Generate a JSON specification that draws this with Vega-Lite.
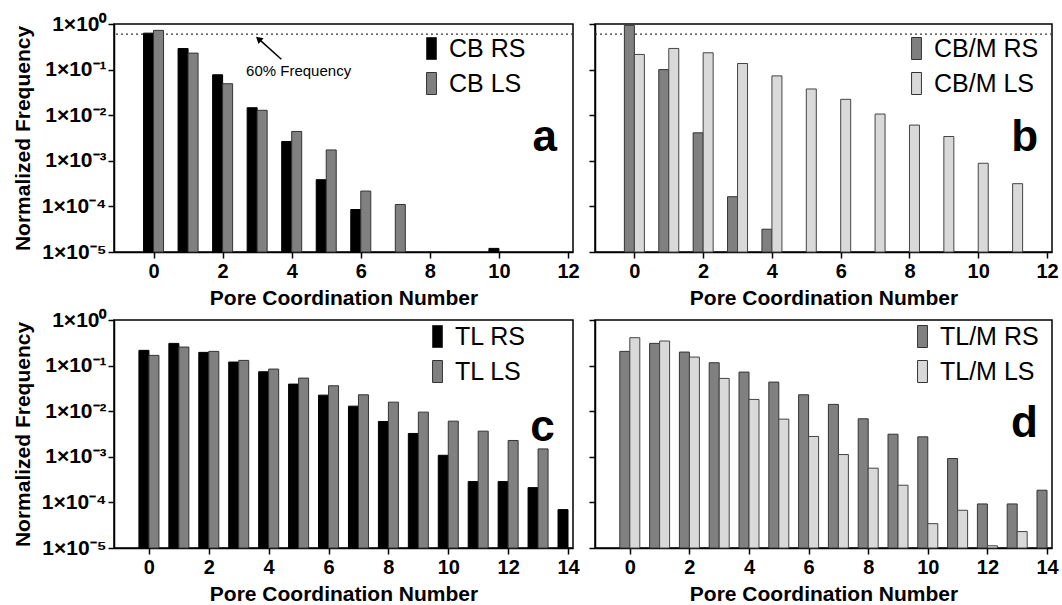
{
  "$schema": "https://vega.github.io/schema/vega-lite/v6.json",
  "padding": {"left": 11, "top": 12, "right": 5, "bottom": 2},
  "columns": 2,
  "spacing": {"row": 68, "column": 22},
  "bounds": "flush",
  "resolve": {"scale": {"x": "independent", "y": "independent", "color": "independent"}, "legend": {"color": "independent"}},
  "config": {
    "font": "Liberation Sans",
    "view": {"stroke": "#000", "strokeWidth": 1.5},
    "axis": {"domainColor": "#000", "domainWidth": 1.5, "tickColor": "#000", "tickWidth": 1.5, "tickSize": 6, "grid": false,
      "labelFont": "Liberation Sans", "labelFontSize": 20, "labelFontWeight": "bold", "labelColor": "#000",
      "titleFont": "Liberation Sans", "titleFontSize": 21, "titleFontWeight": "bold", "titleColor": "#000",
      "labelPadding": 3, "titlePadding": 6, "labelOverlap": false, "labelFlush": false},
    "axisY": {"titlePadding": 8, "labelFontSize": 21, "labelPadding": 2},
    "legend": {"orient": "none", "title": null, "padding": 0, "symbolType": "M-0.45,-1L0.45,-1L0.45,1L-0.45,1Z", "symbolSize": 484,
      "symbolStrokeColor": "#333", "symbolStrokeWidth": 1, "symbolOpacity": 1, "labelFont": "Liberation Sans", "labelFontSize": 25, "labelColor": "#000", "labelOffset": 5, "rowPadding": 8}
  },
  "concat": [
    {
      "width": 459, "height": 228,
      "data": {"values": [
        {"n": 0, "s": "CB RS", "f": 0.63}, {"n": 1, "s": "CB RS", "f": 0.29}, {"n": 2, "s": "CB RS", "f": 0.077}, {"n": 3, "s": "CB RS", "f": 0.0146},
        {"n": 4, "s": "CB RS", "f": 0.00265}, {"n": 5, "s": "CB RS", "f": 0.000385}, {"n": 6, "s": "CB RS", "f": 0.0000855}, {"n": 10, "s": "CB RS", "f": 0.000012},
        {"n": 0, "s": "CB LS", "f": 0.725}, {"n": 1, "s": "CB LS", "f": 0.23}, {"n": 2, "s": "CB LS", "f": 0.049}, {"n": 3, "s": "CB LS", "f": 0.0128},
        {"n": 4, "s": "CB LS", "f": 0.0044}, {"n": 5, "s": "CB LS", "f": 0.00173}, {"n": 6, "s": "CB LS", "f": 0.000217}, {"n": 7, "s": "CB LS", "f": 0.00011}
      ]},
      "layer": [
        {"data": {"values": [{}]}, "mark": {"type": "rule", "strokeDash": [2, 3], "color": "#333", "strokeWidth": 1.2}, "encoding": {"y": {"datum": 0.6, "type": "quantitative"}}},
        {"transform": [{"filter": "datum.s == 'CB RS'"}],
         "mark": {"type": "bar", "width": 10, "xOffset": -5, "stroke": "#000", "strokeWidth": 1},
         "encoding": {
           "x": {"field": "n", "type": "quantitative", "scale": {"domain": [-1, 12], "nice": false, "zero": false},
                 "axis": {"values": [0,1,2,3,4,5,6,7,8,9,10,11,12], "labelExpr": "datum.value % 2 == 0 ? datum.label : ''", "title": "Pore Coordination Number"}},
           "y": {"field": "f", "type": "quantitative", "scale": {"type": "log", "domain": [0.00001, 1], "nice": false},
                 "axis": {"values": [0.00001, 0.0001, 0.001, 0.01, 0.1, 1], "labelExpr": "'1×10' + ['⁰','⁻¹','⁻²','⁻³','⁻⁴','⁻⁵'][round(-log(datum.value)/LN10)]", "title": "Normalized Frequency"}},
           "y2": {"datum": 0.00001},
           "color": {"field": "s", "type": "nominal", "scale": {"domain": ["CB RS", "CB LS"], "range": ["#000000", "#808080"]},
                     "legend": {"legendX": 305, "legendY": 12}}
         }},
        {"transform": [{"filter": "datum.s == 'CB LS'"}],
         "mark": {"type": "bar", "width": 10, "xOffset": 5, "stroke": "#333", "strokeWidth": 1},
         "encoding": {
           "x": {"field": "n", "type": "quantitative"},
           "y": {"field": "f", "type": "quantitative"},
           "y2": {"datum": 0.00001},
           "color": {"field": "s", "type": "nominal"}
         }},
        {"data": {"values": [{"t": "60% Frequency"}]}, "mark": {"type": "text", "fontSize": 15, "font": "Liberation Sans", "color": "#000"},
         "encoding": {"x": {"datum": 4.2, "type": "quantitative"}, "y": {"datum": 0.092, "type": "quantitative"}, "text": {"field": "t"}}},
        {"data": {"values": [{}]}, "mark": {"type": "rule", "color": "#000", "strokeWidth": 1.5},
         "encoding": {"x": {"datum": 3.7, "type": "quantitative"}, "y": {"datum": 0.169, "type": "quantitative"}, "x2": {"datum": 3.06}, "y2": {"datum": 0.46}}},
        {"data": {"values": [{}]}, "mark": {"type": "point", "shape": "triangle-up", "filled": true, "color": "#000", "size": 60, "angle": 311.5, "opacity": 1},
         "encoding": {"x": {"datum": 3.04, "type": "quantitative"}, "y": {"datum": 0.47, "type": "quantitative"}}},
        {"data": {"values": [{"t": "a"}]}, "mark": {"type": "text", "fontSize": 44, "fontWeight": "bold", "font": "Liberation Sans", "color": "#000"},
         "encoding": {"x": {"datum": 11.33, "type": "quantitative"}, "y": {"datum": 0.0032, "type": "quantitative"}, "text": {"field": "t"}}}
      ]
    },
    {
      "width": 457, "height": 228,
      "data": {"values": [
        {"n": 0, "s": "CB/M RS", "f": 0.935}, {"n": 1, "s": "CB/M RS", "f": 0.1}, {"n": 2, "s": "CB/M RS", "f": 0.0041}, {"n": 3, "s": "CB/M RS", "f": 0.000163}, {"n": 4, "s": "CB/M RS", "f": 0.0000316},
        {"n": 0, "s": "CB/M LS", "f": 0.215}, {"n": 1, "s": "CB/M LS", "f": 0.291}, {"n": 2, "s": "CB/M LS", "f": 0.234}, {"n": 3, "s": "CB/M LS", "f": 0.136},
        {"n": 4, "s": "CB/M LS", "f": 0.0728}, {"n": 5, "s": "CB/M LS", "f": 0.0376}, {"n": 6, "s": "CB/M LS", "f": 0.0223}, {"n": 7, "s": "CB/M LS", "f": 0.0106},
        {"n": 8, "s": "CB/M LS", "f": 0.00607}, {"n": 9, "s": "CB/M LS", "f": 0.00341}, {"n": 10, "s": "CB/M LS", "f": 0.000883}, {"n": 11, "s": "CB/M LS", "f": 0.000315}
      ]},
      "layer": [
        {"data": {"values": [{}]}, "mark": {"type": "rule", "strokeDash": [2, 3], "color": "#333", "strokeWidth": 1.2}, "encoding": {"y": {"datum": 0.6, "type": "quantitative"}}},
        {"transform": [{"filter": "datum.s == 'CB/M RS'"}],
         "mark": {"type": "bar", "width": 10, "xOffset": -5, "stroke": "#333", "strokeWidth": 1},
         "encoding": {
           "x": {"field": "n", "type": "quantitative", "scale": {"domain": [-1, 12], "nice": false, "zero": false},
                 "axis": {"values": [0,1,2,3,4,5,6,7,8,9,10,11,12], "labelExpr": "datum.value % 2 == 0 ? datum.label : ''", "title": "Pore Coordination Number"}},
           "y": {"field": "f", "type": "quantitative", "scale": {"type": "log", "domain": [0.00001, 1], "nice": false},
                 "axis": {"values": [0.00001, 0.0001, 0.001, 0.01, 0.1, 1], "labels": false, "title": null}},
           "y2": {"datum": 0.00001},
           "color": {"field": "s", "type": "nominal", "scale": {"domain": ["CB/M RS", "CB/M LS"], "range": ["#808080", "#d9d9d9"]},
                     "legend": {"legendX": 309, "legendY": 12}}
         }},
        {"transform": [{"filter": "datum.s == 'CB/M LS'"}],
         "mark": {"type": "bar", "width": 10, "xOffset": 5, "stroke": "#444", "strokeWidth": 1},
         "encoding": {
           "x": {"field": "n", "type": "quantitative"},
           "y": {"field": "f", "type": "quantitative"},
           "y2": {"datum": 0.00001},
           "color": {"field": "s", "type": "nominal"}
         }},
        {"data": {"values": [{"t": "b"}]}, "mark": {"type": "text", "fontSize": 44, "fontWeight": "bold", "font": "Liberation Sans", "color": "#000"},
         "encoding": {"x": {"datum": 11.35, "type": "quantitative"}, "y": {"datum": 0.0032, "type": "quantitative"}, "text": {"field": "t"}}}
      ]
    },
    {
      "width": 459, "height": 228,
      "data": {"values": [
        {"n": 0, "s": "TL RS", "f": 0.216}, {"n": 1, "s": "TL RS", "f": 0.307}, {"n": 2, "s": "TL RS", "f": 0.195}, {"n": 3, "s": "TL RS", "f": 0.1196},
        {"n": 4, "s": "TL RS", "f": 0.0733}, {"n": 5, "s": "TL RS", "f": 0.0393}, {"n": 6, "s": "TL RS", "f": 0.0225}, {"n": 7, "s": "TL RS", "f": 0.0129},
        {"n": 8, "s": "TL RS", "f": 0.00595}, {"n": 9, "s": "TL RS", "f": 0.00325}, {"n": 10, "s": "TL RS", "f": 0.00108}, {"n": 11, "s": "TL RS", "f": 0.000286},
        {"n": 12, "s": "TL RS", "f": 0.000286}, {"n": 13, "s": "TL RS", "f": 0.000211}, {"n": 14, "s": "TL RS", "f": 0.0000695},
        {"n": 0, "s": "TL LS", "f": 0.1675}, {"n": 1, "s": "TL LS", "f": 0.255}, {"n": 2, "s": "TL LS", "f": 0.205}, {"n": 3, "s": "TL LS", "f": 0.13},
        {"n": 4, "s": "TL LS", "f": 0.0839}, {"n": 5, "s": "TL LS", "f": 0.0532}, {"n": 6, "s": "TL LS", "f": 0.0361}, {"n": 7, "s": "TL LS", "f": 0.0229},
        {"n": 8, "s": "TL LS", "f": 0.0158}, {"n": 9, "s": "TL LS", "f": 0.00954}, {"n": 10, "s": "TL LS", "f": 0.00605}, {"n": 11, "s": "TL LS", "f": 0.00365},
        {"n": 12, "s": "TL LS", "f": 0.00228}, {"n": 13, "s": "TL LS", "f": 0.00149}
      ]},
      "layer": [
        {"transform": [{"filter": "datum.s == 'TL RS'"}],
         "mark": {"type": "bar", "width": 10, "xOffset": -5, "stroke": "#000", "strokeWidth": 1},
         "encoding": {
           "x": {"field": "n", "type": "quantitative", "scale": {"domain": [-1, 14], "nice": false, "zero": false},
                 "axis": {"values": [0,1,2,3,4,5,6,7,8,9,10,11,12,13,14], "labelExpr": "datum.value % 2 == 0 ? datum.label : ''", "title": "Pore Coordination Number"}},
           "y": {"field": "f", "type": "quantitative", "scale": {"type": "log", "domain": [0.00001, 1], "nice": false},
                 "axis": {"values": [0.00001, 0.0001, 0.001, 0.01, 0.1, 1], "labelExpr": "'1×10' + ['⁰','⁻¹','⁻²','⁻³','⁻⁴','⁻⁵'][round(-log(datum.value)/LN10)]", "title": "Normalized Frequency"}},
           "y2": {"datum": 0.00001},
           "color": {"field": "s", "type": "nominal", "scale": {"domain": ["TL RS", "TL LS"], "range": ["#000000", "#808080"]},
                     "legend": {"legendX": 311, "legendY": 4}}
         }},
        {"transform": [{"filter": "datum.s == 'TL LS'"}],
         "mark": {"type": "bar", "width": 10, "xOffset": 5, "stroke": "#333", "strokeWidth": 1},
         "encoding": {
           "x": {"field": "n", "type": "quantitative"},
           "y": {"field": "f", "type": "quantitative"},
           "y2": {"datum": 0.00001},
           "color": {"field": "s", "type": "nominal"}
         }},
        {"data": {"values": [{"t": "c"}]}, "mark": {"type": "text", "fontSize": 44, "fontWeight": "bold", "font": "Liberation Sans", "color": "#000"},
         "encoding": {"x": {"datum": 13.15, "type": "quantitative"}, "y": {"datum": 0.0043, "type": "quantitative"}, "text": {"field": "t"}}}
      ]
    },
    {
      "width": 457, "height": 228,
      "data": {"values": [
        {"n": 0, "s": "TL/M RS", "f": 0.205}, {"n": 1, "s": "TL/M RS", "f": 0.307}, {"n": 2, "s": "TL/M RS", "f": 0.198}, {"n": 3, "s": "TL/M RS", "f": 0.1156},
        {"n": 4, "s": "TL/M RS", "f": 0.0721}, {"n": 5, "s": "TL/M RS", "f": 0.0435}, {"n": 6, "s": "TL/M RS", "f": 0.0229}, {"n": 7, "s": "TL/M RS", "f": 0.0141},
        {"n": 8, "s": "TL/M RS", "f": 0.00681}, {"n": 9, "s": "TL/M RS", "f": 0.00313}, {"n": 10, "s": "TL/M RS", "f": 0.00274}, {"n": 11, "s": "TL/M RS", "f": 0.000916},
        {"n": 12, "s": "TL/M RS", "f": 0.0000925}, {"n": 13, "s": "TL/M RS", "f": 0.0000925}, {"n": 14, "s": "TL/M RS", "f": 0.000185},
        {"n": 0, "s": "TL/M LS", "f": 0.409}, {"n": 1, "s": "TL/M LS", "f": 0.346}, {"n": 2, "s": "TL/M LS", "f": 0.154}, {"n": 3, "s": "TL/M LS", "f": 0.0524},
        {"n": 4, "s": "TL/M LS", "f": 0.0181}, {"n": 5, "s": "TL/M LS", "f": 0.0067}, {"n": 6, "s": "TL/M LS", "f": 0.00279}, {"n": 7, "s": "TL/M LS", "f": 0.00112},
        {"n": 8, "s": "TL/M LS", "f": 0.000563}, {"n": 9, "s": "TL/M LS", "f": 0.000238}, {"n": 10, "s": "TL/M LS", "f": 0.0000342}, {"n": 11, "s": "TL/M LS", "f": 0.0000672},
        {"n": 12, "s": "TL/M LS", "f": 0.0000112}, {"n": 13, "s": "TL/M LS", "f": 0.0000229}
      ]},
      "layer": [
        {"transform": [{"filter": "datum.s == 'TL/M RS'"}],
         "mark": {"type": "bar", "width": 10, "xOffset": -5, "stroke": "#333", "strokeWidth": 1},
         "encoding": {
           "x": {"field": "n", "type": "quantitative", "scale": {"domain": [-1, 14], "nice": false, "zero": false},
                 "axis": {"values": [0,1,2,3,4,5,6,7,8,9,10,11,12,13,14], "labelExpr": "datum.value % 2 == 0 ? datum.label : ''", "title": "Pore Coordination Number"}},
           "y": {"field": "f", "type": "quantitative", "scale": {"type": "log", "domain": [0.00001, 1], "nice": false},
                 "axis": {"values": [0.00001, 0.0001, 0.001, 0.01, 0.1, 1], "labels": false, "title": null}},
           "y2": {"datum": 0.00001},
           "color": {"field": "s", "type": "nominal", "scale": {"domain": ["TL/M RS", "TL/M LS"], "range": ["#808080", "#d9d9d9"]},
                     "legend": {"legendX": 315, "legendY": 4}}
         }},
        {"transform": [{"filter": "datum.s == 'TL/M LS'"}],
         "mark": {"type": "bar", "width": 10, "xOffset": 5, "stroke": "#444", "strokeWidth": 1},
         "encoding": {
           "x": {"field": "n", "type": "quantitative"},
           "y": {"field": "f", "type": "quantitative"},
           "y2": {"datum": 0.00001},
           "color": {"field": "s", "type": "nominal"}
         }},
        {"data": {"values": [{"t": "d"}]}, "mark": {"type": "text", "fontSize": 44, "fontWeight": "bold", "font": "Liberation Sans", "color": "#000"},
         "encoding": {"x": {"datum": 13.24, "type": "quantitative"}, "y": {"datum": 0.0052, "type": "quantitative"}, "text": {"field": "t"}}}
      ]
    }
  ]
}
